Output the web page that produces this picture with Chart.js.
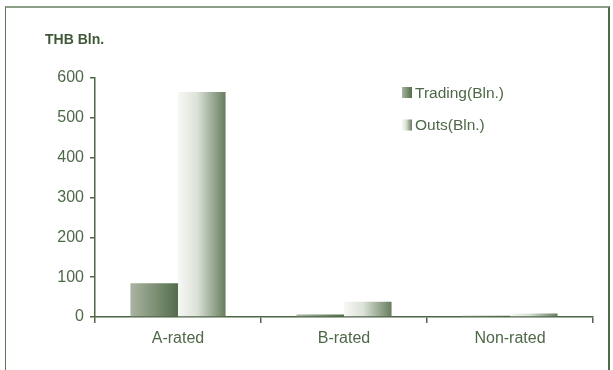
<!DOCTYPE html>
<html>
<head>
<meta charset="utf-8">
<script src="https://cdn.jsdelivr.net/npm/chart.js@4/dist/chart.umd.min.js"></script>
<style>
  html, body { margin: 0; padding: 0; background: #fff; }
  #wrap { position: relative; width: 613px; height: 370px; }
  #frame {
    position: absolute; left: 5px; top: 6px; width: 605px; height: 380px;
    border-left: 1px solid #5f7656; border-top: 2px solid #8c9e85; border-right: 2px solid #4f6a47;
    box-sizing: border-box;
  }
  canvas { position: absolute; left: 0; top: 0; }
</style>
</head>
<body>
<div id="wrap">
  <div id="frame"></div>
  <canvas id="bondChart" width="613" height="370"></canvas>
</div>
<script>
// ---------------- DATA ----------------
const categories = ["A-rated", "B-rated", "Non-rated"];
const tradingValues = [85, 6, 3];
const outsValues = [565, 38, 9];
const yTicks = [0, 100, 200, 300, 400, 500, 600];

const axisColor = "#4d6646";
const textColor = "#4f6848";
const fontFamily = "'Liberation Sans', Arial, sans-serif";

// horizontal shade for each series, left to right
const shades = {
  "Trading(Bln.)": [[0, "#aab4a3"], [0.5, "#7f9176"], [1, "#536c4b"]],
  "Outs(Bln.)": [[0, "#f7f8f5"], [0.4, "#dce2d8"], [1, "#677d5e"]]
};

function shade(ctx, x0, x1, label) {
  const g = ctx.createLinearGradient(x0, 0, x1, 0);
  shades[label].forEach(s => g.addColorStop(s[0], s[1]));
  return g;
}

// ---------------- PLUGINS ----------------
const barShading = {
  id: "barShading",
  beforeDatasetsDraw(chart) {
    chart.data.datasets.forEach((ds, i) => {
      chart.getDatasetMeta(i).data.forEach(bar => {
        const half = bar.width / 2;
        // options can be shared between bars, so give each its own copy
        bar.options = Object.assign({}, bar.options, {
          backgroundColor: shade(chart.ctx, bar.x - half, bar.x + half, ds.label)
        });
      });
    });
  }
};

const sideText = {
  id: "sideText",
  afterDraw(chart) {
    const ctx = chart.ctx;
    ctx.save();
    ctx.textBaseline = "middle";
    // unit title
    ctx.fillStyle = "#3e5737";
    ctx.font = "bold 14px " + fontFamily;
    ctx.fillText("THB Bln.", 45, 40);
    // legend
    ctx.font = "15.5px " + fontFamily;
    chart.data.datasets.forEach((ds, i) => {
      const y = 92.5 + i * 32.5;
      ctx.fillStyle = shade(ctx, 402, 412, ds.label);
      ctx.fillRect(402, y - 5.5, 10, 11);
      ctx.fillStyle = textColor;
      ctx.fillText(ds.label, 415, y + 1);
    });
    ctx.restore();
  }
};

// ---------------- CHART ----------------
new Chart(document.getElementById("bondChart"), {
  type: "bar",
  data: {
    labels: categories,
    datasets: [
      { label: "Trading(Bln.)", data: tradingValues, backgroundColor: "#7d8f75" },
      { label: "Outs(Bln.)", data: outsValues, backgroundColor: "#c5cdc0" }
    ]
  },
  options: {
    responsive: false,
    animation: false,
    events: [],
    layout: { padding: { top: 78, right: 20, bottom: 0, left: 0 } },
    datasets: {
      bar: { categoryPercentage: 0.573, barPercentage: 1.0, borderWidth: 0 }
    },
    plugins: {
      legend: { display: false },
      tooltip: { enabled: false }
    },
    scales: {
      x: {
        afterFit(scale) { scale.height = 53; },
        border: { color: axisColor, width: 1.5 },
        grid: { display: true, offset: true, drawOnChartArea: false, color: axisColor, tickLength: 6, lineWidth: 1.5 },
        ticks: { color: textColor, padding: 6, font: { size: 16, family: fontFamily } }
      },
      y: {
        min: 0,
        max: 600,
        afterFit(scale) { scale.width = 95; },
        afterBuildTicks(scale) { scale.ticks = yTicks.map(v => ({ value: v })); },
        border: { color: axisColor, width: 1.5 },
        grid: { display: true, drawOnChartArea: false, color: axisColor, tickLength: 5, lineWidth: 1.5 },
        ticks: { color: textColor, padding: 6, font: { size: 16, family: fontFamily } }
      }
    }
  },
  plugins: [barShading, sideText]
});
</script>
</body>
</html>
